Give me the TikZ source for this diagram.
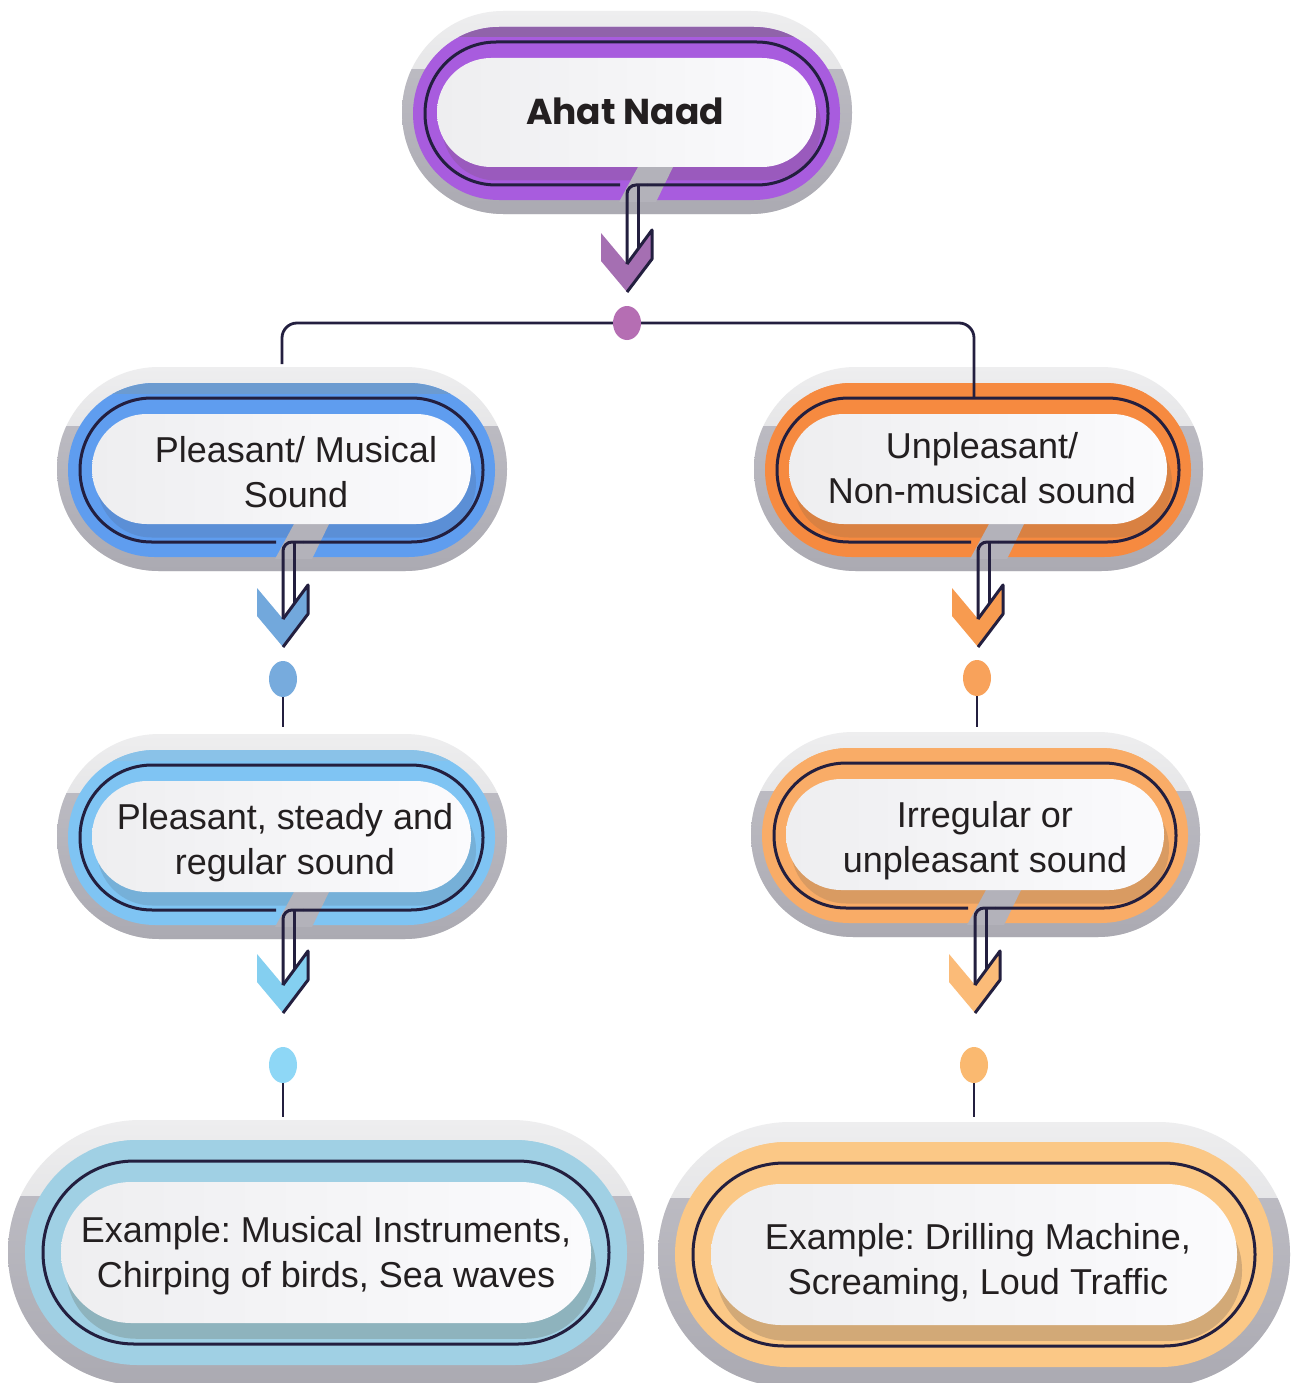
\documentclass[tikz,border=0pt]{standalone}
\usepackage{fontspec}
\setmainfont{Liberation Sans}
\newfontfamily\titlefont{Poppins}
\frenchspacing
\definecolor{olc}{HTML}{231F3F}
\definecolor{txtc}{HTML}{231F20}
\definecolor{shtop}{HTML}{EEEEEF}
\definecolor{shmid}{HTML}{D3D3D6}
\definecolor{shdtop}{HTML}{C2C1C8}
\definecolor{shdbot}{HTML}{ABAAB2}
\definecolor{slitc}{HTML}{B3B2BA}
\definecolor{wl}{HTML}{EEEEF0}
\definecolor{wr}{HTML}{FBFBFD}
\definecolor{pband}{HTML}{A85CDE}\definecolor{pinner}{HTML}{9A5ABD}\definecolor{ptop}{HTML}{9063AA}\definecolor{pchev}{HTML}{A56FB2}\definecolor{pdot}{HTML}{B56EB3}
\definecolor{bband}{HTML}{5F9DEF}\definecolor{binner}{HTML}{5B8FD6}\definecolor{btop}{HTML}{6C9BD0}\definecolor{bchev}{HTML}{72A8DC}\definecolor{bdot}{HTML}{77ABDD}
\definecolor{lband}{HTML}{7FC4F3}\definecolor{linner}{HTML}{76B0D8}\definecolor{ltop}{HTML}{8AC2E8}\definecolor{lchev}{HTML}{84CFF0}\definecolor{ldot}{HTML}{8ED7F6}
\definecolor{eband}{HTML}{A0D0E4}\definecolor{einner}{HTML}{8EB3BD}
\definecolor{oband}{HTML}{F68A40}\definecolor{oinner}{HTML}{D98142}\definecolor{ochev}{HTML}{F79B50}\definecolor{odot}{HTML}{F8A25B}
\definecolor{qband}{HTML}{F9AC67}\definecolor{qinner}{HTML}{D99B62}\definecolor{qchev}{HTML}{FBBB78}\definecolor{qdot}{HTML}{FAB970}
\definecolor{fband}{HTML}{FBC886}\definecolor{finner}{HTML}{D2A977}

\tikzset{
  ol/.style={draw=olc, line width=3pt},
  cn/.style={draw=olc, line width=2.8pt},
  lbl/.style={align=center, inner sep=0pt, text=txtc, font=\fontsize{36}{45}\selectfont},
}

\newcommand\stad[5]{\pgfmathsetmacro\rr{abs((#5)-(#3))/2-0.3}\path[#1,rounded corners=\rr pt] (#2,#3) rectangle (#4,#5);}

\newcommand\setmid{\def\nSL{11}\def\nSR{12}\def\nST{16}\def\nSB{14}\def\nSS{59}\def\nOH{12}\def\nOV{15}\def\nWH{24}\def\nWT{31}\def\nWB{33}}
\newcommand\setbig{\def\nSL{17}\def\nSR{17}\def\nST{20}\def\nSB{20}\def\nSS{76}\def\nOH{18}\def\nOV{21}\def\nWH{36}\def\nWT{42}\def\nWB{42}}

% #1 x1, #2 y1, #3 x2, #4 y2 (band), #5 band, #6 inner shadow, #7 top strip, #8 arrow x (0 = none)
\newcommand\fancynode[8]{%
  \pgfmathsetmacro\sxa{#1-\nSL}\pgfmathsetmacro\sya{#2-\nST}%
  \pgfmathsetmacro\sxb{#3+\nSR}\pgfmathsetmacro\syb{#4+\nSB}\pgfmathsetmacro\ssp{\sya+\nSS}%
  \pgfmathsetmacro\oxa{#1+\nOH}\pgfmathsetmacro\oya{#2+\nOV}\pgfmathsetmacro\oxb{#3-\nOH}\pgfmathsetmacro\oyb{#4-\nOV}%
  \pgfmathsetmacro\wxa{#1+\nWH}\pgfmathsetmacro\wya{#2+\nWT}\pgfmathsetmacro\wxb{#3-\nWH}\pgfmathsetmacro\wyb{#4-\nWB}%
  \pgfmathsetmacro\orr{(\oyb-\oya)/2-0.3}\pgfmathsetmacro\isd{(\nWB-\nOV)*0.75}%
  \stad{top color=shtop,bottom color=shmid}{\sxa}{\sya}{\sxb}{\syb}%
  \begin{scope}\clip (\sxa-1,\ssp) rectangle (\sxb+1,\syb+1);
    \stad{top color=shdtop,bottom color=shdbot}{\sxa}{\sya}{\sxb}{\syb}\end{scope}%
  \stad{fill=#5}{#1}{#2}{#3}{#4}%
  \begin{scope}\clip (#1,#2-1) rectangle (#3,#2+10);\stad{fill=#7}{#1}{#2}{#3}{#4}\end{scope}%
  \stad{fill=#6}{\wxa+5}{\wya+\isd}{\wxb+5}{\wyb+\isd}%
  \ifnum#8>0
    \fill[slitc] (#8+11,\wyb) -- (#8+46,\wyb) -- (#8+29,#4+2) -- (#8-8,#4+2) -- cycle;
    \draw[ol,rounded corners=\orr pt] (#8-7,\oyb) -- (\oxa,\oyb) -- (\oxa,\oya) -- (\oxb,\oya) -- (\oxb,\oyb) -- (#8+20,\oyb);
  \else
    \stad{ol}{\oxa}{\oya}{\oxb}{\oyb}%
  \fi
  \stad{left color=wl,right color=wr}{\wxa}{\wya}{\wxb}{\wyb}%
}

% #1 name, #2 ax, #3 outline y, #4 tip y, #5 colour
\newcommand\arrowdown[5]{%
  \coordinate (#1s) at (#2,#3);
  \coordinate (#1t) at (#2,#4);
  \fill[#5] (#2-26,#4-59) -- (#2,#4-28) -- (#2+25,#4-62) -- (#2+25,#4-33) -- (#2,#4) -- (#2-26,#4-31) -- cycle;
  \draw[ol,rounded corners=9pt] (#2+20,#3) -- (#1s) -- (#2,#4-28);
  \draw[ol] (#2+11,#3) -- (#2+11,#4-43);
  \draw[ol,line join=round] (#2,#4-28) -- (#2+25,#4-62) -- (#2+25,#4-33) -- (#1t);
}

\begin{document}
\begin{tikzpicture}[x=1pt,y=-1pt]
\useasboundingbox (0,0) rectangle (1291,1383);
\fill[white] (0,0) rectangle (1291,1383);

% boxes
\setmid
\fancynode{413}{27}{840}{200}{pband}{pinner}{ptop}{627}
\fancynode{68}{383}{495}{557}{bband}{binner}{btop}{283}
\fancynode{765}{383}{1191}{557}{oband}{oinner}{oband}{978}
\fancynode{68}{750}{495}{925}{lband}{linner}{ltop}{283}
\fancynode{762}{748}{1188}{923}{qband}{qinner}{qband}{975}
\setbig
\fancynode{25}{1140}{627}{1365}{eband}{einner}{eband}{0}
\fancynode{675}{1142}{1273}{1367}{fband}{finner}{fband}{0}

% texts
\node[lbl] (t0) at (625,116) {\titlefont\bfseries\strut Ahat Naad};
\node[lbl] (t1) at (296,475.5) {\strut Pleasant/ Musical\\\strut Sound};
\node[lbl] (t2) at (982,471.5) {\strut Unpleasant/\\\strut Non-musical sound};
\node[lbl] (t3) at (285,843) {\strut Pleasant, steady and\\\strut regular sound};
\node[lbl] (t4) at (985,841) {\strut Irregular or\\\strut unpleasant sound};
\node[lbl] (t5) at (326,1255.5) {\strut Example: Musical Instruments,\\\strut Chirping of birds, Sea waves};
\node[lbl] (t6) at (978,1263) {\strut Example: Drilling Machine,\\\strut Screaming, Loud Traffic};

% arrows
\arrowdown{a0}{627}{185}{292}{pchev}
\arrowdown{a1}{283}{542}{647}{bchev}
\arrowdown{a2}{978}{542}{647}{ochev}
\arrowdown{a3}{283}{910}{1013}{lchev}
\arrowdown{a4}{975}{908}{1013}{qchev}

% dots and links
\coordinate (d0) at (627,323);
\coordinate (d1) at (283,679);
\coordinate (d2) at (977,678);
\coordinate (d3) at (283,1065);
\coordinate (d4) at (974,1065);
\coordinate (l1) at (282,364);
\coordinate (r1) at (974,398);
\coordinate (e1) at (283,727);
\coordinate (e2) at (977,727);
\coordinate (e3) at (283,1117);
\coordinate (e4) at (974,1117);

\draw[cn,rounded corners=15pt] (l1) -- (282,323) -- (974,323) -- (r1);
\draw[cn] (d1) -- (e1);
\draw[cn] (d2) -- (e2);
\draw[cn] (d3) -- (e3);
\draw[cn] (d4) -- (e4);

\fill[pdot] (d0) ellipse [x radius=14, y radius=17];
\fill[bdot] (d1) ellipse [x radius=14, y radius=18];
\fill[odot] (d2) ellipse [x radius=14, y radius=18];
\fill[ldot] (d3) ellipse [x radius=14, y radius=18];
\fill[qdot] (d4) ellipse [x radius=14, y radius=18];
\end{tikzpicture}
\end{document}
